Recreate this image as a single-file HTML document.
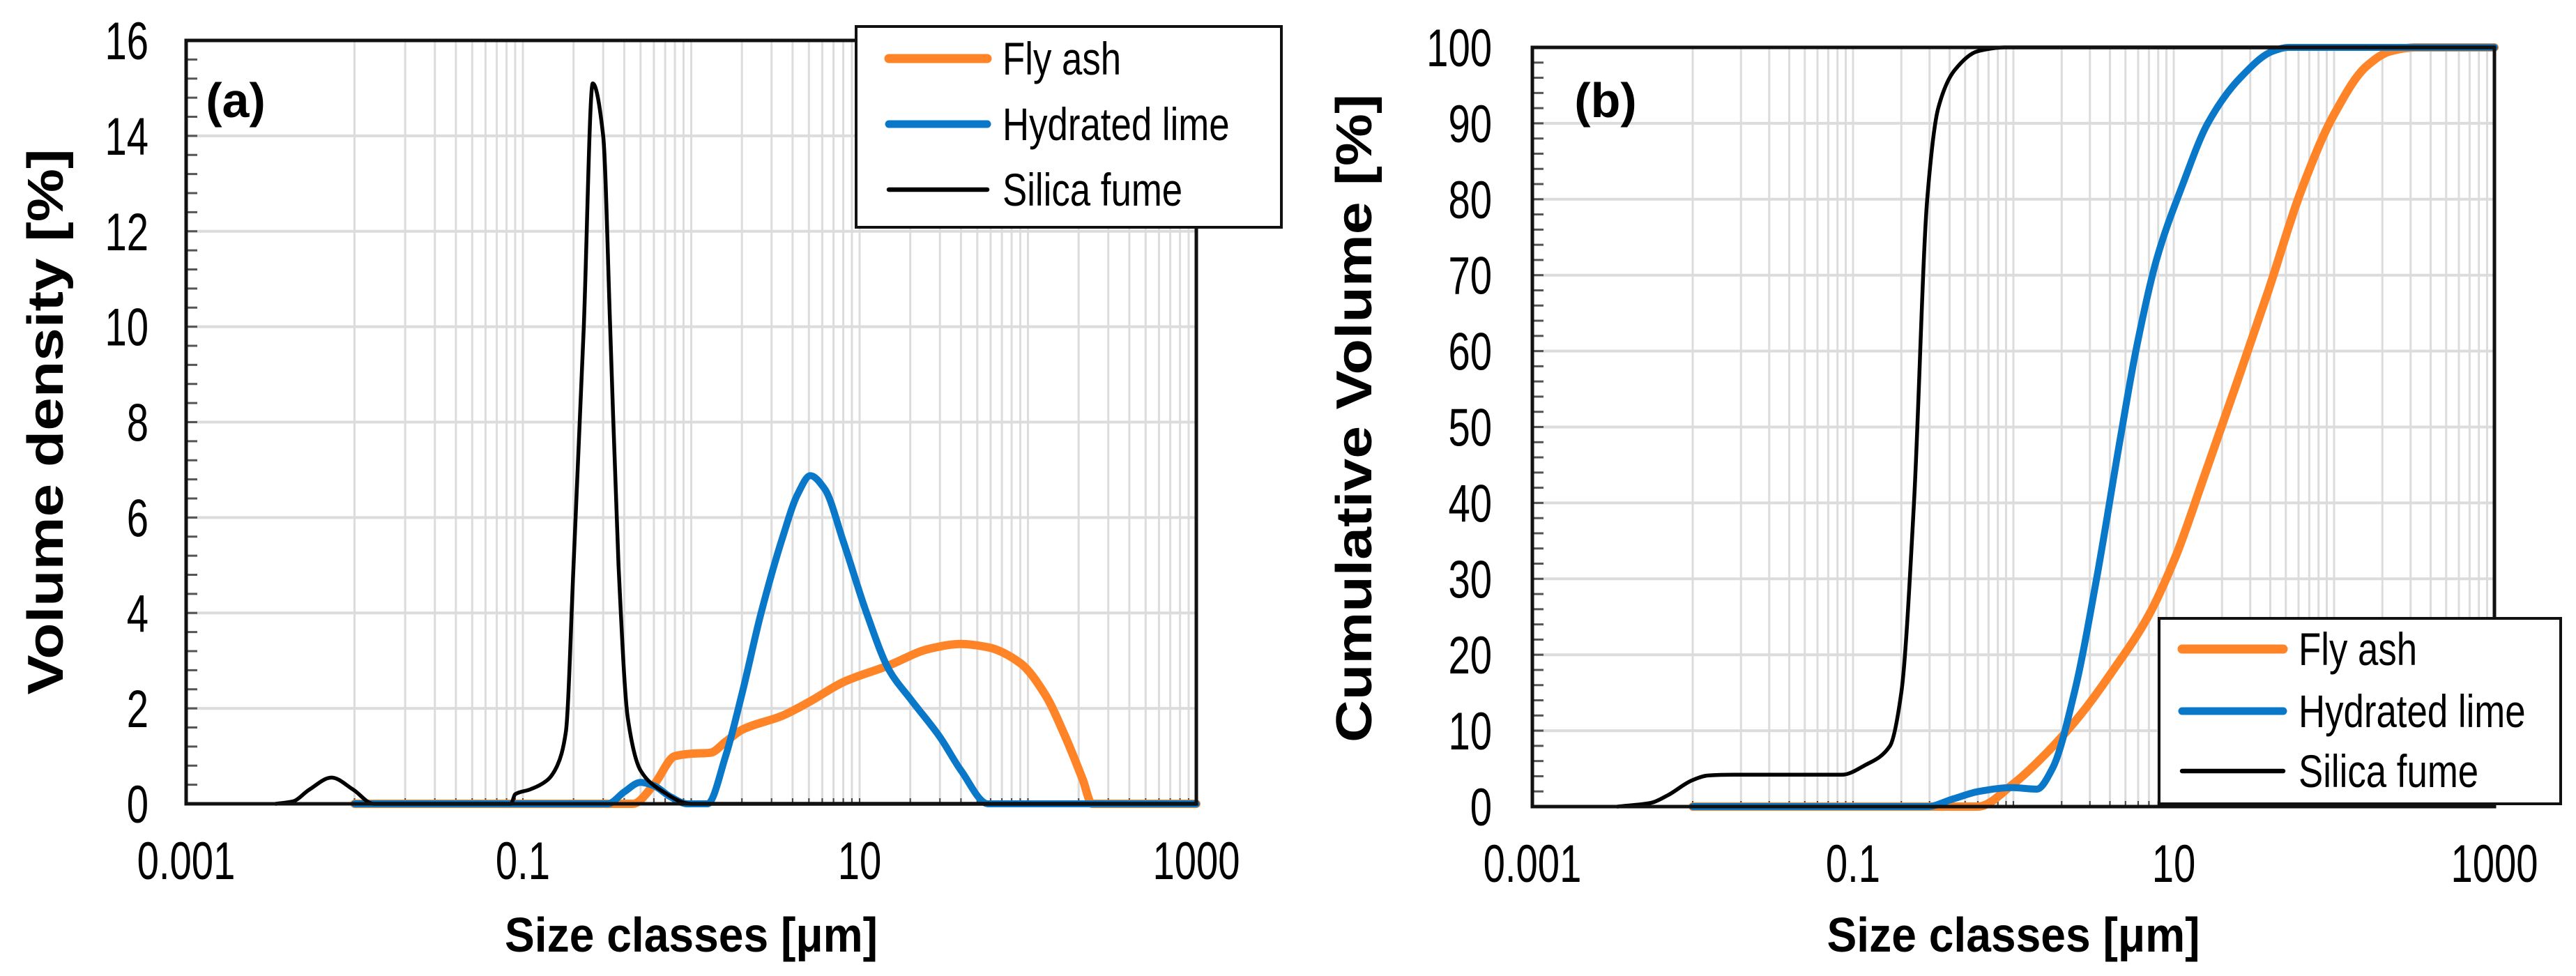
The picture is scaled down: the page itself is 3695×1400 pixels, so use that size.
<!DOCTYPE html>
<html><head><meta charset="utf-8">
<style>
html,body{margin:0;padding:0;background:#fff;}
svg{display:block;}
text{font-family:"Liberation Sans",sans-serif;fill:#000;}
</style></head>
<body>
<svg id="fig" width="3695" height="1400" viewBox="0 0 3695 1400" xmlns="http://www.w3.org/2000/svg"></svg>
<script>
// ---- data ----
const xTickLabels = ["0.001","0.1","10","1000"];
const xTickValues = [0.001,0.1,10,1000];
const yTicksA = [0,2,4,6,8,10,12,14,16];
const yTicksB = [0,10,20,30,40,50,60,70,80,90,100];
const seriesNames = ["Fly ash","Hydrated lime","Silica fume"];

const flyAshA_x = [0.01,0.45,0.6,0.8,1.0,1.3,1.6,2.0,3.5,5.1,8,14.9,26,40,58,90,126,167,212,240,1000];
const flyAshA_y = [0,0,0.4,1.0,1.05,1.07,1.3,1.55,1.85,2.15,2.55,2.9,3.25,3.35,3.28,2.95,2.3,1.4,0.5,0,0];
const limeA_x = [0.01,0.32,0.4,0.5,0.6,0.75,0.95,1.25,1.6,2.0,2.6,3.5,4.3,5.1,6.2,8,11,15,20,30,40,58,1000];
const limeA_y = [0,0,0.25,0.45,0.38,0.15,0,0,1.0,2.3,4.0,5.6,6.5,6.88,6.6,5.5,4.0,2.8,2.2,1.4,0.7,0,0];
const silicaA_x = [0.0034,0.0043,0.0054,0.0073,0.0098,0.013,0.085,0.09,0.11,0.14,0.16,0.18,0.2,0.23,0.26,0.3,0.33,0.37,0.42,0.5,0.65,1.0,1000];
const silicaA_y = [0,0.05,0.3,0.55,0.3,0,0,0.2,0.3,0.5,0.8,1.5,5,10,15.1,14,10,5,1.8,0.7,0.3,0,0];

const flyAshB_x = [0.01,0.6,1.0,1.6,2.6,4.2,6.9,10.3,15.2,24,39,62,99,159,225,320,1000];
const flyAshB_y = [0,0,3,7,12,18,25,33,43,55,68,81,91,97.5,99.5,100,100];
const limeB_x = [0.01,0.29,0.42,0.61,0.98,1.4,1.75,2.4,3.3,4.6,5.8,7.8,11.4,16.3,26,41.5,52,1000];
const limeB_y = [0,0,1,2,2.5,2.3,5,15,30,48,60,72,82,90,96,99.5,100,100];
const silicaB_x = [0.0034,0.0055,0.007,0.01,0.0125,0.018,0.085,0.12,0.17,0.2,0.24,0.29,0.34,0.43,0.6,0.88,1000];
const silicaB_y = [0,0.5,1.5,3.5,4.1,4.2,4.2,5.5,8,15,40,80,92,97,99.5,100,100];

const NS="http://www.w3.org/2000/svg";
const svg=document.getElementById('fig');
function mk(tag,attrs,parent){const e=document.createElementNS(NS,tag);for(const k in attrs)e.setAttribute(k,attrs[k]);(parent||svg).appendChild(e);return e;}

// monotone cubic (Fritsch-Carlson) in pixel space
function smoothPath(pts){
  const n=pts.length;
  const dx=[],m=[],t=new Array(n);
  for(let i=0;i<n-1;i++){dx[i]=pts[i+1][0]-pts[i][0];m[i]=(pts[i+1][1]-pts[i][1])/dx[i];}
  t[0]=m[0];t[n-1]=m[n-2];
  for(let i=1;i<n-1;i++){
    if(m[i-1]*m[i]<=0)t[i]=0;
    else{const w1=2*dx[i]+dx[i-1],w2=dx[i]+2*dx[i-1];t[i]=(w1+w2)/(w1/m[i-1]+w2/m[i]);}
  }
  let d="M"+pts[0][0].toFixed(1)+","+pts[0][1].toFixed(1);
  for(let i=0;i<n-1;i++){
    const h=dx[i]/3;
    d+=" C"+(pts[i][0]+h).toFixed(1)+","+(pts[i][1]+t[i]*h).toFixed(1)+" "+(pts[i+1][0]-h).toFixed(1)+","+(pts[i+1][1]-t[i+1]*h).toFixed(1)+" "+pts[i+1][0].toFixed(1)+","+pts[i+1][1].toFixed(1);
  }
  return d;
}

function panel(cfg){
  const {L,R,T,B,ymax,yTicks,minorY,key}=cfg;
  const g=mk('g',{});
  
  
  const xs=v=>L+(Math.log10(v)+3)/6*(R-L);
  const ys=v=>B-v/ymax*(B-T);
  for(let dec=-2;dec<3;dec++){
    for(let m=1;m<10;m++){
      const v=m*Math.pow(10,dec);
      const x=xs(v);
      const gl=mk('line',{x1:x,x2:x,y1:T,y2:B,stroke:'#dcdcdc','stroke-width':3},g);
      
      
      const tk=mk('line',{x1:x,x2:x,y1:B-8,y2:B,stroke:'#444','stroke-width':2},g);
      
      
    }
  }
  yTicks.forEach(v=>{
    const y=ys(v);
    const hl=mk('line',{x1:L,x2:R,y1:y,y2:y,stroke:'#dcdcdc','stroke-width':4},g);
    
    
  });
  for(let v=0;v<=ymax+1e-9;v+=minorY){
    const y=ys(v);
    const mt=mk('line',{x1:L,x2:L+16,y1:y,y2:y,stroke:'#555','stroke-width':3},g);
    
    
  }
  const cols=['#FF8427','#0A78C8','#000'];
  const widths=[12,10,5.5];
  cfg.series.forEach((s,i)=>{
    const pts=s[0].map((xv,j)=>[xs(xv),ys(s[1][j])]);
    const p=mk('path',{d:smoothPath(pts),fill:'none',stroke:cols[i],'stroke-width':widths[i],'stroke-linejoin':'round','stroke-linecap':'round'},g);
    
    
  });
  const fr=mk('rect',{x:L,y:T,width:R-L,height:B-T,fill:'none',stroke:'#111','stroke-width':5},g);
  
  
  yTicks.forEach(v=>{
    const t=mk('text',{x:0,y:0,'font-size':76,'text-anchor':'end',transform:`translate(${cfg.ylabX},${ys(v)+27}) scale(0.74,1)`},g);
    t.textContent=v;
    
    
  });
  xTickValues.forEach((v,i)=>{
    const t=mk('text',{x:0,y:0,'font-size':76,'text-anchor':'middle',transform:`translate(${xs(v)},${B+108}) scale(0.74,1)`},g);
    t.textContent=xTickLabels[i];
    
    
  });
  const xt=mk('text',{x:(L+R)/2,y:1365,'font-size':70,'font-weight':'bold','text-anchor':'middle',textLength:535,lengthAdjust:'spacingAndGlyphs'},g);
  xt.textContent='Size classes [μm]';
  
  
  const yt=mk('text',{x:0,y:0,'font-size':72,'font-weight':'bold','text-anchor':'middle',textLength:cfg.ytitleLen,lengthAdjust:'spacingAndGlyphs',transform:`translate(${cfg.ytitleX},${cfg.ytitleY}) rotate(-90)`},g);
  yt.textContent=cfg.ytitle;
  
  
  const pl=mk('text',{x:cfg.plX,y:168,'font-size':70,'font-weight':'bold','text-anchor':'middle'},g);
  pl.textContent=cfg.plabel;
  
  
  const lg=cfg.legend;
  const lgG=mk('g',{},g);
  
  
  mk('rect',{x:lg.x,y:lg.y,width:lg.w,height:lg.h,fill:'#fff',stroke:'#111','stroke-width':4},lgG);
  seriesNames.forEach((n,i)=>{
    const y=lg.rows[i];
    const ent=mk('g',{},lgG);
    
    
    mk('line',{x1:lg.lx1,x2:lg.lx2,y1:y,y2:y,stroke:cols[i],'stroke-width':widths[i]+1,'stroke-linecap':'round'},ent);
    const t=mk('text',{x:0,y:0,'font-size':66,transform:`translate(${lg.tx},${y+23}) scale(0.8,1)`},ent);
    t.textContent=n;
  });
}

panel({key:'a',L:267,R:1716,T:58,B:1153,ymax:16,yTicks:yTicksA,minorY:0.4,ylabX:213,
  ytitle:'Volume density [%]',ytitleX:90,ytitleY:605,ytitleLen:783,plX:338,plabel:'(a)',
  series:[[flyAshA_x,flyAshA_y],[limeA_x,limeA_y],[silicaA_x,silicaA_y]],
  legend:{x:1228,y:38,w:610,h:288,rows:[84,178,272],lx1:1275,lx2:1416,tx:1438}});
panel({key:'b',L:2198,R:3578,T:68,B:1157,ymax:100,yTicks:yTicksB,minorY:2,ylabX:2140,
  ytitle:'Cumulative Volume [%]',ytitleX:1967,ytitleY:600,ytitleLen:930,plX:2303,plabel:'(b)',
  series:[[flyAshB_x,flyAshB_y],[limeB_x,limeB_y],[silicaB_x,silicaB_y]],
  legend:{x:3097,y:887,w:576,h:266,rows:[931,1020,1106],lx1:3130,lx2:3275,tx:3297}});
</script>
</body></html>
